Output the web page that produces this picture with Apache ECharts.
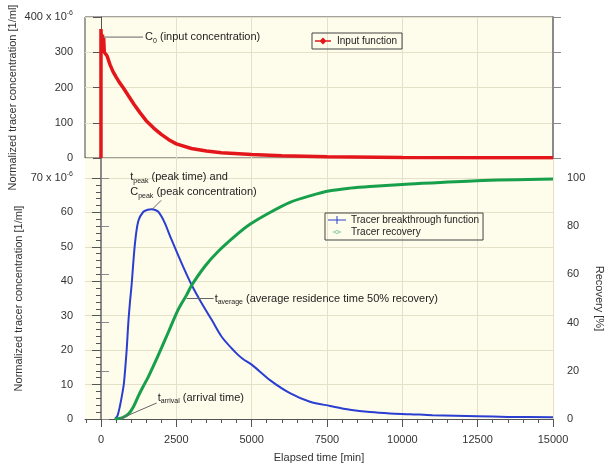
<!DOCTYPE html>
<html>
<head>
<meta charset="utf-8">
<title>Tracer test</title>
<script src="https://cdn.jsdelivr.net/npm/echarts@6/dist/echarts.min.js"></script>
<style>
  html, body { margin: 0; padding: 0; background: #fff; }
  #main { width: 609px; height: 466px; }
</style>
</head>
<body>
<div id="main"></div>
<script>
// elapsed time [min] / concentration [x 1e-6 1/ml] / recovery [%]
const inputTime = [0, 0, 30, 50, 70, 90, 110, 150, 200, 300, 400, 500, 600, 750, 900, 1100, 1300, 1500, 1750, 2000, 2250, 2500, 3000, 3500, 4000, 5000, 6000, 7500, 10000, 12500, 15000];
const inputConc = [0, 366, 300, 350, 305, 340, 300, 305, 290, 265, 245, 230, 216, 198, 178, 152, 128, 106, 85, 67, 52, 40, 27, 20, 15, 10, 6.5, 3.5, 1.5, 0.8, 0.5];

const btcTime = [465, 550, 630, 700, 763, 852, 908, 963, 1017, 1128, 1239, 1405, 1550, 1682, 1800, 1903, 2010, 2124, 2346, 2678, 3010, 3342, 3674, 4005, 4447, 4700, 5000, 5608, 6272, 6936, 7600, 8263, 8927, 9590, 10254, 11000, 12500, 13500, 15000];
const btcConc = [0, 1, 3.8, 7, 10.5, 20, 28, 34, 39, 51, 57.5, 60.2, 60.8, 60.9, 60.7, 60.2, 58.8, 56.8, 52, 45.2, 38.9, 33.6, 28.8, 23.9, 19.5, 17.5, 15.8, 11.3, 7.5, 5.0, 3.8, 2.7, 2.0, 1.6, 1.4, 1.1, 0.8, 0.6, 0.5];

const recTime = [465, 700, 908, 1073, 1239, 1400, 1571, 1903, 2235, 2566, 2843, 3010, 3451, 3894, 4447, 4945, 5608, 6272, 6936, 7600, 8263, 8927, 10254, 12470, 15000];
const recPct = [0, 0.5, 2, 5, 9.5, 13.5, 17.5, 26.5, 36, 45.5, 51.5, 55.5, 63.4, 69.6, 75.9, 80.8, 85.7, 89.9, 92.6, 94.7, 95.8, 96.5, 97.5, 98.9, 99.6];

const xMajor = [0, 2500, 5000, 7500, 10000, 12500, 15000];
const xMinor = [-500, 0, 500, 1000, 1500, 2000, 2500, 3000, 3500, 4000, 4500, 5000, 5500, 6000, 6500, 7000, 7500,
  8000, 8500, 9000, 9500, 10000, 10500, 11000, 11500, 12000, 12500, 13000, 13500, 14000, 14500, 15000];

const FONT = '"Liberation Sans", Arial, sans-serif';
const BG = '#fefcea';
const GRID = '#e4e1c8';
const AX = '#555';
const AX_R = '#8a8a8a';

const zip = (a, b) => a.map((v, i) => [v, b[i]]);

const supRich = { sup: { fontSize: 7, lineHeight: 7, verticalAlign: 'top', color: '#333', fontFamily: FONT } };
const labelStyle = { color: '#333', fontSize: 11, fontFamily: FONT, lineHeight: 14 };

let chart = echarts.init(document.getElementById('main'));

const option = {
  animation: false,
  backgroundColor: '#fff',
  textStyle: { fontFamily: FONT },
  grid: [
    { left: 85, top: 17, width: 468, height: 141, show: true, backgroundColor: BG, borderColor: '#444', borderWidth: 1, outerBoundsMode: 'none' },
    { left: 85, top: 178, width: 468, height: 241, show: true, backgroundColor: BG, borderWidth: 0, outerBoundsMode: 'none' },
    { left: 85, top: 158, width: 468, height: 20, show: true, backgroundColor: BG, borderWidth: 0, outerBoundsMode: 'none' }
  ],
  legend: [
    {
      left: 312, top: 33, padding: [3, 5, 3, 3], selectedMode: false,
      borderColor: '#444', borderWidth: 1, backgroundColor: 'transparent',
      itemWidth: 16, itemHeight: 8, itemGap: 0,
      itemStyle: { borderWidth: 0 },
      textStyle: { fontSize: 10, color: '#222', fontFamily: FONT, padding: [0, 0, 0, 1] },
      data: [{ name: 'Input function', icon: 'path://M0,6.5h32v3h-32z M16,1l7,7l-7,7l-7,-7z' }]
    },
    {
      left: 325, top: 213, orient: 'vertical', padding: [2, 4, 3, 3], selectedMode: false,
      borderColor: '#444', borderWidth: 1, backgroundColor: 'transparent',
      itemWidth: 18, itemHeight: 8, itemGap: 2,
      itemStyle: { borderWidth: 0 },
      textStyle: { fontSize: 10, color: '#222', fontFamily: FONT },
      data: [
        { name: 'Tracer breakthrough function', icon: 'path://M0,7h36v2h-36z M17,0h2v16h-2z' },
        { name: 'Tracer recovery', icon: 'path://M0,0L0,16L0,0Z M36,0L36,16L36,0Z M18,4L27,8L18,12L9,8Z M18,6L13,8L18,10L23,8Z', itemStyle: { color: '#86c7a4' } }
      ]
    }
  ],
  xAxis: [
    {
      gridIndex: 0, type: 'value', min: -530, max: 15000,
      axisLine: { show: false },
      axisTick: { show: false, customValues: xMajor },
      axisLabel: { show: false },
      splitLine: { show: true, lineStyle: { color: GRID, width: 1 } }
    },
    {
      gridIndex: 1, type: 'value', min: -530, max: 15000, position: 'bottom',
      name: 'Elapsed time [min]', nameLocation: 'middle', nameGap: 33,
      nameTextStyle: { color: '#333', fontSize: 11, fontFamily: FONT },
      axisLine: { show: true, lineStyle: { color: AX, width: 1 } },
      axisTick: { show: true, length: 8, customValues: xMajor, lineStyle: { color: AX } },
      axisLabel: Object.assign({ customValues: xMajor, margin: 14, formatter: v => String(v) }, labelStyle),
      splitLine: { show: true, lineStyle: { color: GRID, width: 1 } }
    },
    {
      gridIndex: 1, type: 'value', min: -530, max: 15000, position: 'bottom',
      axisLine: { show: false },
      axisTick: { show: true, length: 4, customValues: xMinor, lineStyle: { color: AX } },
      axisLabel: { show: false },
      splitLine: { show: false }
    },
    {
      gridIndex: 2, type: 'value', min: -530, max: 15000,
      axisLine: { show: false },
      axisTick: { show: false, customValues: xMajor },
      axisLabel: { show: false },
      splitLine: { show: true, lineStyle: { color: GRID, width: 1 } }
    }
  ],
  yAxis: [
    {
      gridIndex: 0, type: 'value', min: 0, max: 400, interval: 100, position: 'left',
      name: 'Normalized tracer concentration [1/ml]', nameLocation: 'middle', nameRotate: 90, nameGap: 67,
      nameMoveOverlap: false,
      nameTextStyle: { color: '#333', fontSize: 11, fontFamily: FONT, padding: [0, 20, 0, 0] },
      axisLine: { show: true, lineStyle: { color: AX, width: 1 } },
      axisTick: { show: true, length: 8, lineStyle: { color: AX } },
      axisLabel: Object.assign({
        margin: 12, rich: supRich,
        formatter: v => v === 400 ? '400 x 10{sup|-6}' : String(v)
      }, labelStyle),
      splitLine: { show: true, lineStyle: { color: GRID, width: 1 } }
    },
    {
      gridIndex: 0, type: 'value', min: 0, max: 400, interval: 100, position: 'right',
      axisLine: { show: true, lineStyle: { color: AX_R, width: 2 } },
      axisTick: { show: true, length: 8, lineStyle: { color: AX_R } },
      axisLabel: { show: false },
      splitLine: { show: false }
    },
    {
      gridIndex: 1, type: 'value', min: 0, max: 70, interval: 10, position: 'left',
      name: 'Normalized tracer concentration [1/ml]', nameLocation: 'middle', nameRotate: 90, nameGap: 61,
      nameMoveOverlap: false,
      nameTextStyle: { color: '#333', fontSize: 11, fontFamily: FONT },
      axisLine: { show: true, lineStyle: { color: AX, width: 1 } },
      axisTick: { show: true, length: 9, lineStyle: { color: AX } },
      minorTick: { show: true, splitNumber: 5, length: 5, lineStyle: { color: AX } },
      axisLabel: Object.assign({
        margin: 12, rich: supRich,
        formatter: v => v === 70 ? '70 x 10{sup|-6}' : String(v)
      }, labelStyle),
      splitLine: { show: true, lineStyle: { color: GRID, width: 1 } }
    },
    {
      gridIndex: 1, type: 'value', min: 0, max: 100, interval: 20, position: 'right',
      name: 'Recovery [%]', nameLocation: 'middle', nameRotate: -90, nameGap: 41,
      nameMoveOverlap: false,
      nameTextStyle: { color: '#333', fontSize: 11, fontFamily: FONT },
      axisLine: { show: true, lineStyle: { color: AX_R, width: 2 } },
      axisTick: { show: true, length: 8, lineStyle: { color: AX_R } },
      axisLabel: Object.assign({ margin: 14 }, labelStyle),
      splitLine: { show: false }
    },
    {
      gridIndex: 2, type: 'value', min: 0, max: 1, position: 'right',
      axisLine: { show: true, lineStyle: { color: AX_R, width: 2 } },
      axisTick: { show: false },
      axisLabel: { show: false },
      splitLine: { show: false }
    }
  ],
  series: [
    {
      name: 'Input function', type: 'line', xAxisIndex: 0, yAxisIndex: 0,
      data: zip(inputTime, inputConc), symbol: 'none', showSymbol: false,
      lineStyle: { color: '#e3161c', width: 3.5 }, itemStyle: { color: '#e3161c' }, z: 3
    },
    {
      name: 'Tracer breakthrough function', type: 'line', xAxisIndex: 1, yAxisIndex: 2,
      data: zip(btcTime, btcConc), symbol: 'none', showSymbol: false, smooth: 0.3,
      lineStyle: { color: '#2a3ed2', width: 2 }, itemStyle: { color: '#2a3ed2' }, z: 3
    },
    {
      name: 'Tracer recovery', type: 'line', xAxisIndex: 1, yAxisIndex: 3,
      data: zip(recTime, recPct), symbol: 'none', showSymbol: false, smooth: 0.3,
      lineStyle: { color: '#17a04c', width: 3 }, itemStyle: { color: '#17a04c' }, z: 4
    }
  ]
};

chart.setOption(option);

// annotations, anchored on the curves through the series' own axes
const annFont = { fontSize: 11, fontFamily: FONT, lineHeight: 14, fill: '#222' };
const subRich = { s: { fontSize: 7, lineHeight: 7, verticalAlign: 'bottom', fill: '#222', fontFamily: FONT } };
const px = (si, pt) => chart.convertToPixel({ seriesIndex: si }, pt);

function note(anchor, lineEnd, textPos, lines) {
  const els = [{
    type: 'line', z: 10,
    shape: { x1: anchor[0], y1: anchor[1], x2: anchor[0] + lineEnd[0], y2: anchor[1] + lineEnd[1] },
    style: { stroke: '#666', lineWidth: 1 }
  }];
  lines.forEach((t, i) => {
    els.push({
      type: 'text', z: 10,
      x: anchor[0] + textPos[0], y: anchor[1] + textPos[1] + i * 15,
      style: Object.assign({ text: t, rich: subRich, verticalAlign: 'middle', align: 'left' }, annFont)
    });
  });
  return els;
}

const c0 = px(0, [70, 343]);
const pk = px(1, [1700, 60.9]);
const av = px(2, [2843, 50]);
const ar = px(1, [620, 0]);

chart.setOption({
  graphic: [].concat(
    note(c0, [40, 0], [42, 0], ['C{s|0} (input concentration)']),
    note(pk, [9, -9], [-22, -32], ['t{s|peak} (peak time) and', 'C{s|peak} (peak concentration)']),
    note(av, [27, 0], [28, 0], ['t{s|average} (average residence time 50% recovery)']),
    note(ar, [37, -16], [38, -21], ['t{s|arrival} (arrival time)'])
  )
});
</script>
</body>
</html>
